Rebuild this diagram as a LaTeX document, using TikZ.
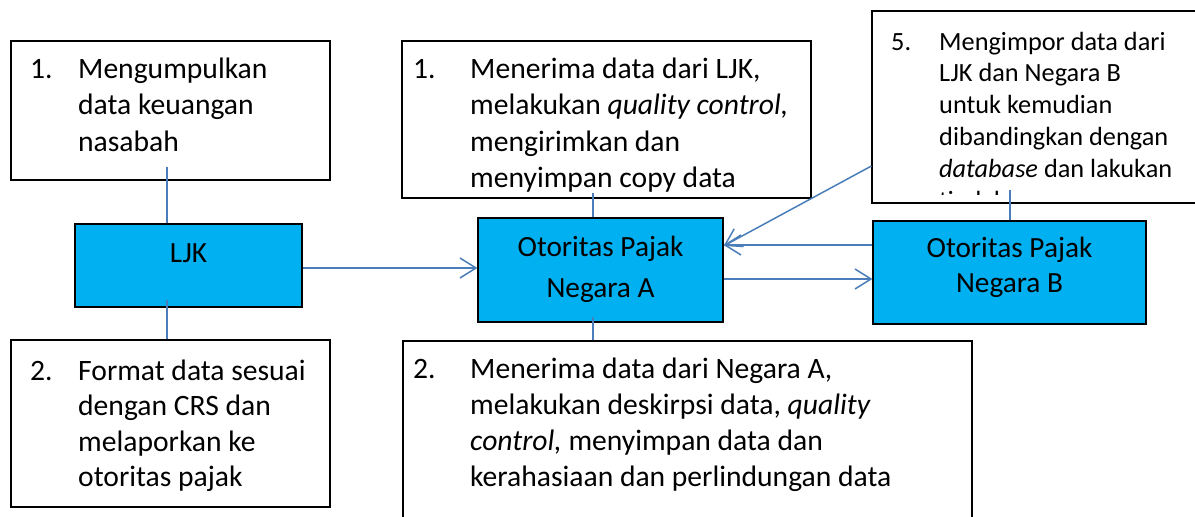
\documentclass[tikz,border=0pt]{standalone}
\usepackage{fontspec}
\setmainfont{Carlito}
\usetikzlibrary{arrows.meta,calc}
\definecolor{boxblue}{HTML}{00B0F0}
\definecolor{conblue}{HTML}{4A7EBB}
\begin{document}
\begin{tikzpicture}[x=1pt,y=-1pt,
  tbox/.style={draw=black, line width=1.2pt, fill=white, rectangle, inner sep=0pt},
  bbox/.style={draw=black, line width=1.2pt, fill=boxblue, rectangle, inner sep=0pt},
  con/.style={draw=conblue, line width=1.5pt},
  arr/.style={con, -{Straight Barb[length=16pt,width=20pt]}},
  txt/.style={inner sep=0pt, anchor=base west, font=\fontsize{29.6}{35}\selectfont},
  ctxt/.style={inner sep=0pt, anchor=base, font=\fontsize{29.3}{35}\selectfont},
  stxt/.style={inner sep=0pt, anchor=base west, font=\fontsize{26.3}{31}\selectfont}]
\useasboundingbox (0,0) rectangle (1195,517);
\fill[white] (0,0) rectangle (1195,517);
\clip (0,0) rectangle (1195,517);

% boxes
\node[tbox, minimum width=319pt, minimum height=139pt] (b1) at (170.5,110.5) {};
\node[tbox, minimum width=319pt, minimum height=167pt] (b2) at (170.5,423.5) {};
\node[bbox, minimum width=227pt, minimum height=83pt] (ljk) at (188.5,265.5) {};
\node[bbox, minimum width=245pt, minimum height=104pt] (opa) at (600.5,270) {};
\node[bbox, minimum width=273pt, minimum height=103pt] (opb) at (1009.5,272.5) {};
\node[tbox, minimum width=409pt, minimum height=157pt] (t1) at (606.5,119.5) {};
\node[tbox, minimum width=569pt, minimum height=199pt] (t2) at (687.5,440.5) {};
\node[tbox, minimum width=343pt, minimum height=192pt] (n5) at (1043.5,107) {};

% texts box 1
\node[txt] (b1n) at (30,78) {1.};
\foreach \t [count=\i] in {Mengumpulkan, data keuangan, nasabah}
  \node[txt] (b1l\i) at (78,{78+(\i-1)*36.5}) {\t};
% box 2
\node[txt] (b2n) at (30,380) {2.};
\foreach \t [count=\i] in {Format data sesuai, dengan CRS dan, melaporkan ke, otoritas pajak}
  \node[txt] (b2l\i) at (78,{380+(\i-1)*35.5}) {\t};
% top middle
\node[txt] (t1n) at (413,78) {1.};
\foreach \t [count=\i] in {{Menerima data dari LJK,}, {melakukan \textit{quality control,}}, mengirimkan dan, menyimpan copy data}
  \node[txt] (t1l\i) at (470,{78+(\i-1)*36.5}) {\t};
% bottom middle
\node[txt] (t2n) at (413,378) {2.};
\foreach \t [count=\i] in {{Menerima data dari Negara A,}, {melakukan deskirpsi data, \textit{quality}}, {\textit{control,} menyimpan data dan}, kerahasiaan dan perlindungan data}
  \node[txt] (t2l\i) at (470,{378+(\i-1)*36}) {\t};
% box 5
\node[stxt] (n5n) at (891,50) {5.};
\foreach \t [count=\i] in {Mengimpor data dari, LJK dan Negara B, untuk kemudian, dibandingkan dengan, {\textit{database} dan lakukan}}
  \node[stxt] (n5l\i) at (939,{50+(\i-1)*31.8}) {\t};
\begin{scope}
  \clip (872,11) rectangle (1195,194.5);
  \node[stxt] (n5l6) at (939,209) {tindakan};
\end{scope}

% blue labels
\node[ctxt] (ljkt) at (188.5,262) {LJK};
\node[ctxt] (opat1) at (600.5,256) {Otoritas Pajak};
\node[ctxt] (opat2) at (600.5,297) {Negara A};
\node[ctxt] (opbt1) at (1009.5,257) {Otoritas Pajak};
\node[ctxt] (opbt2) at (1009.5,292) {Negara B};

% connectors
\coordinate (c1) at (167,167);
\draw[con] (c1) -- (c1 |- ljk.north);
\coordinate (c2) at (167,300);
\draw[con] (c2) -- (c2 |- b2.north);
\coordinate (c3) at (593,193);
\draw[con] (c3) -- (c3 |- opa.north);
\coordinate (c4) at (593,317);
\draw[con] (c4) -- (c4 |- t2.north);
\coordinate (c5) at (1010,190);
\draw[con] (c5) -- (c5 |- opb.north);

\draw[arr] (ljk.east |- 0,268) -- (opa.west |- 0,268);
\draw[arr] (opb.west |- 0,245) -- (opa.east |- 0,245);
\draw[arr] (opa.east |- 0,279) -- (opb.west |- 0,279);
\draw[arr] (n5.west |- 0,166) -- (opa.east |- 0,246);
\end{tikzpicture}
\end{document}
